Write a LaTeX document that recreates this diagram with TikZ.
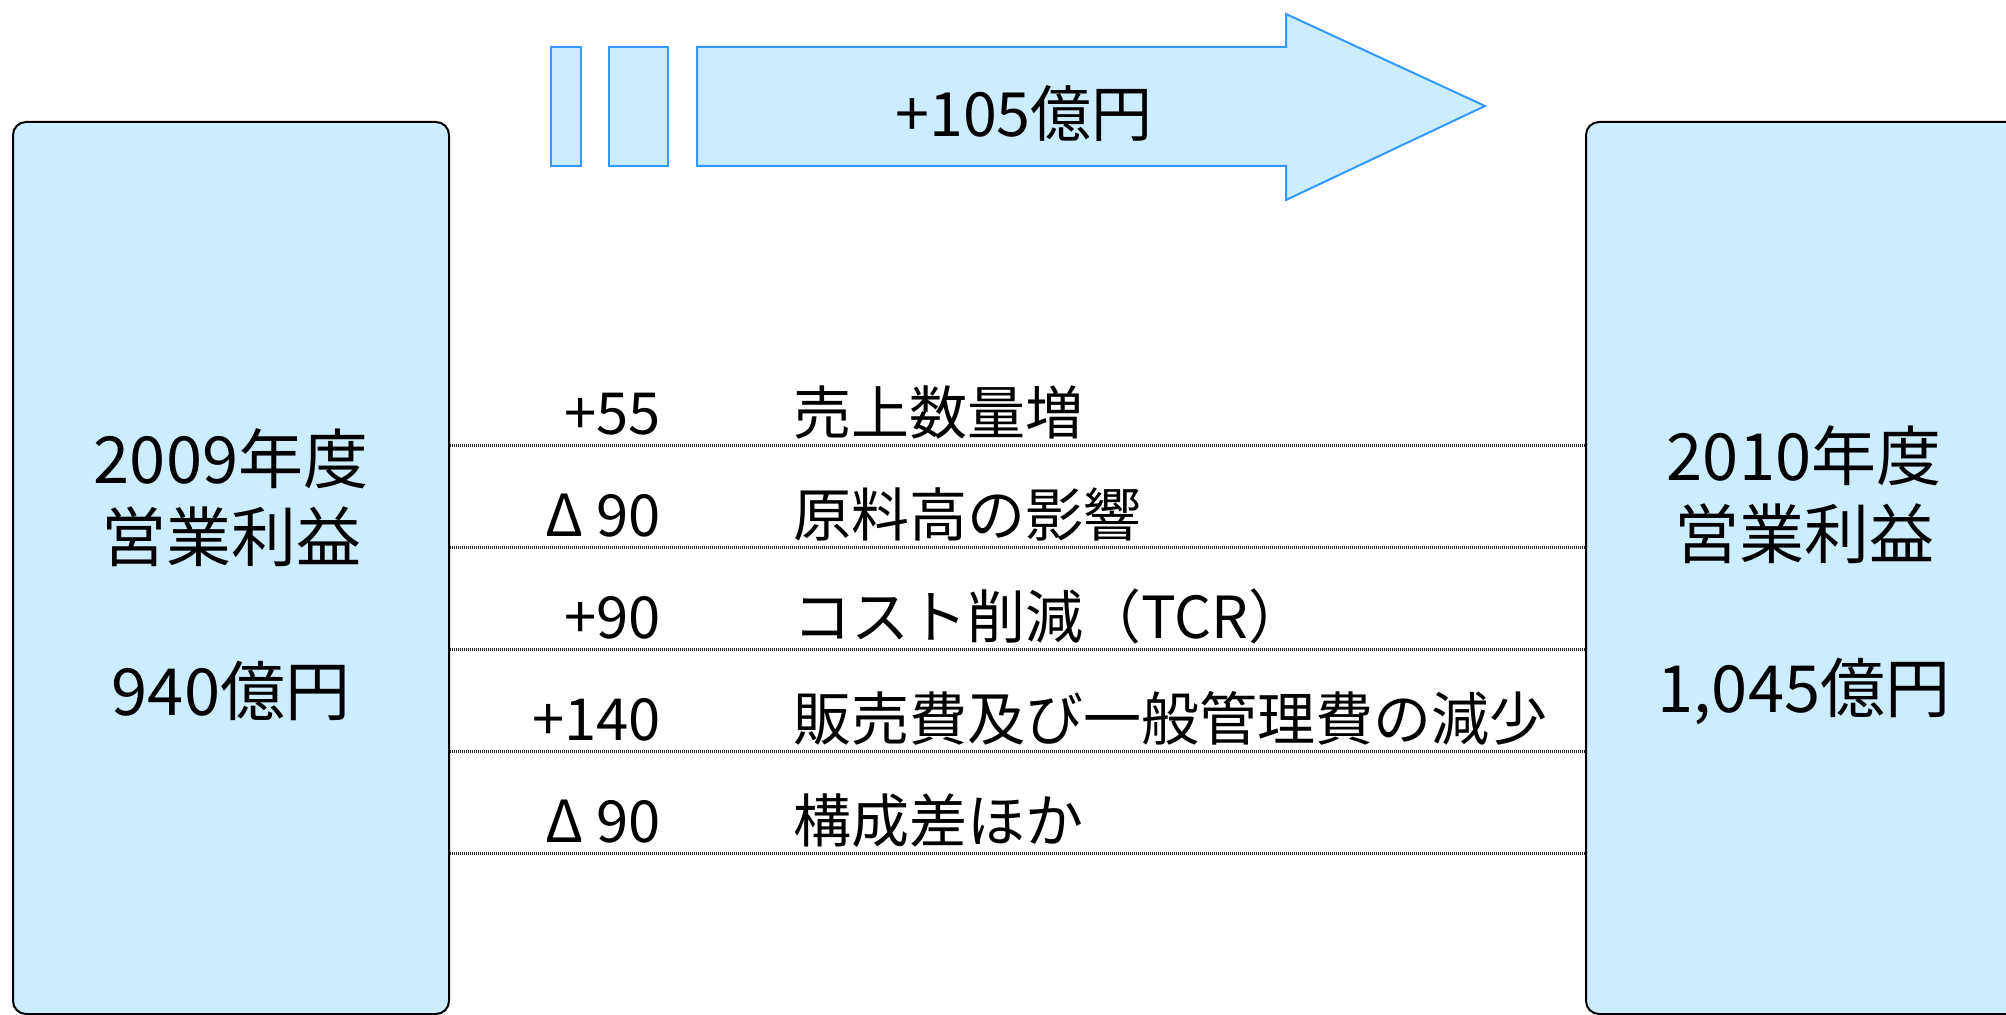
\documentclass[tikz,border=0pt]{standalone}
\usepackage{fontspec}
\setmainfont{Noto Sans CJK JP}

\definecolor{boxblue}{HTML}{CCECFF}
\definecolor{arrowline}{HTML}{3399FF}

\begin{document}
\begin{tikzpicture}[x=0.5pt, y=-0.5pt,
    yearbox/.style={draw=black, line width=1pt, fill=boxblue, rounded corners=6.5pt,
                    minimum width=218pt, minimum height=446pt, inner sep=0pt},
    yeartext/.style={font=\fontsize{32.5}{39}\selectfont, align=center},
    bar/.style={draw=arrowline, line width=1pt, fill=boxblue},
    rowline/.style={draw=black!85, line width=1.5pt, dash pattern=on 0.5pt off 0.5pt},
    amount/.style={anchor=base east, font=\fontsize{29}{30}\selectfont},
    item/.style={anchor=base west, font=\fontsize{29}{30}\selectfont}]

    \useasboundingbox (0,0) rectangle (2006,1015);

    % Boxes {fy09, fy10}
    \node [yearbox]  (fy09)    at (231,568)  {};
    \node [yearbox]  (fy10)    at (1804,568) {};
    \node [yeartext] (fy09txt) at (231,575)  {2009年度\\営業利益\\[38pt]940億円};
    \node [yeartext] (fy10txt) at (1804,575) {2010年度\\営業利益\\[38pt]1,045億円};

    % Arrow
    \path [bar] (551,47) rectangle (581,166);
    \path [bar] (609,47) rectangle (668,166);
    \path [bar] (697,47) -- (1286,47) -- (1286,14) -- (1485,106)
                -- (1286,200) -- (1286,166) -- (697,166) -- cycle;
    \node [anchor=base, font=\fontsize{30.5}{32}\selectfont] (gain) at (1024,137) {+105億円};

    % Rows
    \foreach \amt/\desc [count=\i] in {+55/売上数量増, Δ 90/原料高の影響, +90/コスト削減（TCR）,
                                        +140/販売費及び一般管理費の減少, Δ 90/構成差ほか} {
        \pgfmathsetmacro{\ly}{446 + (\i-1)*101.75}
        \coordinate (row\i) at (0,\ly);
        \node [amount] (amt\i)  at (668,\ly-11) {\amt};
        \node [item]   (desc\i) at (786,\ly-11) {\desc};
        \draw [rowline] (fy09.east |- row\i) -- (fy10.west |- row\i);
    }

\end{tikzpicture}
\end{document}
